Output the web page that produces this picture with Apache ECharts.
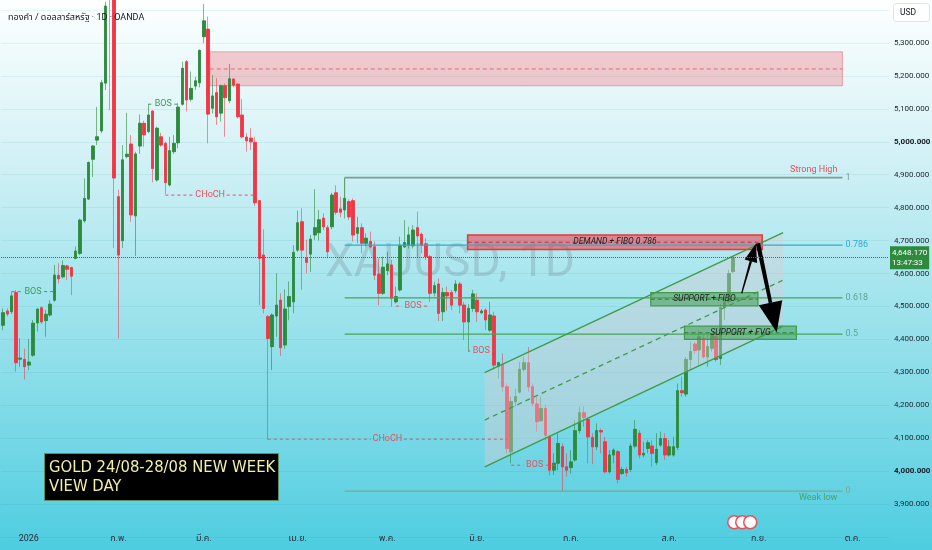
<!DOCTYPE html>
<html><head><meta charset="utf-8">
<script src="https://cdn.jsdelivr.net/npm/echarts@6/dist/echarts.min.js"></script>
<style>html,body{margin:0;padding:0;background:#fff}#c{width:932px;height:550px}</style>
</head><body><div id="c"></div>
<script>
// ---------- DATA ----------
// daily candles [open, high, low, close]
const ohlc = [
[4443,4494,4428,4481],[4486,4494,4470,4477],[4484,4545,4477,4532],[4542,4550,4302,4329],[4340,4403,4317,4343],
[4339,4372,4278,4317],[4322,4401,4307,4331],[4352,4459,4347,4449],[4450,4494,4424,4492],[4496,4500,4447,4453],
[4457,4490,4408,4476],[4474,4519,4469,4507],[4519,4626,4514,4595],[4594,4631,4570,4584],[4590,4640,4585,4624],
[4623,4626,4580,4613],[4618,4621,4534,4592],[4646,4682,4643,4668],[4661,4767,4656,4762],[4760,4889,4754,4828],
[4826,4940,4823,4937],[4947,4990,4893,4987],[5005,5106,4990,5015],[5033,5188,5026,5179],[5178,5425,5157,5412],
[5540,5600,5096,5450],[5450,5460,4677,4890],[4833,4854,4403,4656],[4700,4990,4677,4945],[4955,5088,4950,4962],
[4993,5020,4757,4778],[4775,4970,4653,4963],[4987,5083,4963,5056],[5056,5064,4985,5021],[5031,5115,5026,5081],
[5093,5096,4877,4919],[4884,5046,4879,5041],[5015,5027,4985,4990],[4995,5000,4841,4876],[4869,5015,4864,4973],
[4970,5020,4963,4995],[4997,5117,4980,5105],[5114,5243,5109,5223],[5243,5248,5092,5127],[5129,5213,5122,5162],
[5169,5197,5157,5185],[5179,5281,5165,5277],[5319,5418,5299,5367],[5342,5380,4995,5084],[5102,5203,5086,5139],
[5149,5193,5051,5076],[5087,5174,5061,5170],[5170,5177,5015,5134],[5125,5236,5117,5191],[5190,5193,5165,5172],
[5175,5177,5071,5076],[5081,5129,5010,5015],[5014,5026,4970,5003],[5011,5041,4975,5000],[4998,5015,4805,4815],
[4821,4823,4504,4646],[4656,4734,4479,4494],[4469,4474,4096,4403],[4378,4479,4307,4474],[4471,4601,4408,4504],
[4519,4540,4350,4375],[4383,4552,4372,4492],[4500,4576,4458,4530],[4514,4686,4479,4664],[4671,4791,4666,4754],
[4757,4798,4550,4671],[4646,4702,4601,4634],[4659,4717,4605,4704],[4717,4856,4702,4739],[4724,4793,4700,4763],
[4768,4783,4732,4742],[4739,4747,4646,4666],[4742,4845,4734,4838],[4845,4868,4778,4786],[4796,4833,4771,4786],
[4793,4890,4767,4828],[4818,4825,4762,4772],[4821,4828,4697,4717],[4722,4772,4692,4739],[4739,4752,4661,4692],
[4692,4722,4682,4707],[4697,4727,4677,4681],[4681,4697,4580,4595],[4598,4646,4504,4540],[4540,4651,4535,4619],
[4609,4666,4595,4629],[4626,4641,4499,4525],[4514,4560,4509,4530],[4550,4712,4545,4686],[4681,4762,4677,4694],
[4686,4742,4676,4717],[4684,4747,4676,4732],[4739,4788,4649,4714],[4719,4724,4662,4686],[4690,4707,4641,4651],
[4651,4656,4514,4540],[4541,4575,4530,4563],[4568,4585,4456,4479],[4484,4557,4456,4542],[4542,4560,4487,4532],
[4542,4550,4489,4504],[4548,4580,4540,4568],[4568,4575,4479,4504],[4504,4514,4398,4453],[4453,4507,4362,4494],
[4494,4550,4484,4538],[4519,4540,4453,4484],[4481,4492,4476,4486],[4489,4494,4428,4459],[4428,4514,4423,4474],
[4471,4484,4307,4322],[4317,4332,4281,4329],[4324,4357,4241,4256],[4256,4266,4054,4069],[4059,4226,4024,4211],
[4211,4250,4196,4226],[4240,4332,4236,4309],[4309,4347,4302,4329],[4329,4377,4241,4256],[4256,4266,4196,4206],
[4204,4226,4120,4150],[4153,4226,4150,4190],[4190,4200,4094,4109],[4104,4110,3987,4003],[4003,4054,3988,4024],
[4024,4115,4003,4084],[4074,4084,3940,4013],[4013,4054,3983,4003],[4011,4064,3993,4028],[4034,4155,4029,4123],
[4123,4196,4115,4177],[4177,4196,4135,4163],[4157,4165,4024,4104],[4102,4115,4021,4074],[4074,4145,4064,4123],
[4123,4130,4054,4119],[4089,4104,3993,3998],[3998,4064,3993,4049],[4049,4069,4024,4064],[4059,4064,3963,3975],
[3993,4013,3988,4005],[4005,4013,3983,3995],[4005,4084,3998,4076],[4076,4155,4069,4127],[4115,4125,4039,4049],
[4049,4089,4042,4054],[4069,4094,4054,4086],[4076,4094,4013,4054],[4026,4115,4018,4066],[4079,4120,4074,4099],
[4099,4115,4034,4049],[4049,4094,4044,4074],[4049,4104,4044,4074],[4072,4266,4064,4244],[4244,4287,4226,4238],
[4234,4347,4226,4339],[4339,4393,4307,4363],[4386,4393,4357,4366],[4368,4428,4317,4408],[4403,4413,4342,4347],
[4347,4413,4317,4378],[4373,4418,4363,4413],[4410,4418,4332,4339],[4342,4509,4322,4497],[4497,4530,4459,4514],
[4514,4611,4509,4600],[4606,4653,4600,4648]
];
const firstDay = '2025-12-23';
const holidays = ['2025-12-25','2026-01-01','2026-04-03'];
const dayCount = 208;
const monthNames = ['2026','ก.พ.','มี.ค.','เม.ย.','พ.ค.','มิ.ย.','ก.ค.','ส.ค.','ก.ย.','ต.ค.','พ.ย.','ธ.ค.'];
const priceMin = 3800, priceMax = 5400, priceStep = 100;
const lastPrice = 4648.17, lastTime = '13:47:33';

// market structure lines [startIdx, endIdx, price, label, side]
const structLines = [
  [2, 12, 4545, 'BOS', 'bull'],
  [34, 41, 5114, 'BOS', 'bull'],
  [38, 59, 4838, 'CHoCH', 'bear'],
  [92, 100, 4501, 'BOS', 'bear'],
  [109, 115, 4365, 'BOS', 'bear'],
  [62, 118, 4097, 'CHoCH', 'bear'],
  [119, 130, 4018, 'BOS', 'bear']
];
// fibonacci retracement
const fibLabels = ['1', '0.786', '0.618', '0.5', '0'];
const fibPrices = [4891, 4686, 4526, 4416, 3939];
const fibRange = [80, 196.6];
const fibNames = ['Strong High', '', '', '', 'Weak low'];
// supply zone [x1, x2, low, high, mid]
const supplyZone = [48.4, 196.6, 5170, 5273, 5221];
// boxes [x1, x2, low, high, text, kind]
const boxes = [
  [108.8, 177.8, 4673, 4717, 'DEMAND + FIBO 0.786', 'demand'],
  [151.7, 176.8, 4502, 4542, 'SUPPORT + FIBO', 'support'],
  [159.6, 185.8, 4400, 4440, 'SUPPORT + FVG', 'support']
];
// rising channel
const channelX = [112.8, 182.7];
const channelUpper = [4299, 4724];
const channelMid = [4155, 4580];
const channelLower = [4013, 4440];
// arrows [x1, y1, x2, y2, kind]
const arrows = [
  [173.0, 4540, 176.3, 4690, 'thin'],
  [176.8, 4692, 181.2, 4422, 'bold']
];

// ---------- BUILD ----------
const dates = [];
{
  const [y0, m0, d0] = firstDay.split('-').map(Number);
  let t = Date.UTC(y0, m0 - 1, d0);
  while (dates.length < dayCount) {
    const d = new Date(t); const wd = d.getUTCDay(); const s = d.toISOString().slice(0, 10);
    if (wd !== 0 && wd !== 6 && holidays.indexOf(s) < 0) dates.push(s);
    t += 86400000;
  }
}
const wickData = ohlc.map(r => [r[0], r[3], r[2], r[1]]);
const bodyData = ohlc.map(r => [r[0], r[3], Math.min(r[0], r[3]), Math.max(r[0], r[3])]);

const GREEN = '#2e8b3e', RED = '#f23645';
const AXISFONT = 'Roboto, "Liberation Sans", sans-serif';
const pxPerIdx = 4.27;
const segs = [];   // {x1,y1,x2,y2,color,w,dash}
const texts = [];  // {x,y,text,color,size,align,base,dx,dy,italic}

structLines.forEach(l => {
  const [s, e, p, t, side] = l;
  const c = (s + e) / 2;
  const g = ((t.length * 5.4) / 2 + 3) / pxPerIdx;
  const col = side === 'bull' ? '#3d9b55' : '#e8505c';
  segs.push({x1: s, y1: p, x2: c - g, y2: p, color: col, w: 1, dash: [3, 3]});
  segs.push({x1: c + g, y1: p, x2: e, y2: p, color: col, w: 1, dash: [3, 3]});
  texts.push({x: c, y: p, text: t, color: col, size: 9, align: 'center', base: 'middle', dx: 0, dy: 0});
});
const fibLineColors = ['#7e9d99', '#2aaed0', '#47a552', '#47a552', '#7ea596'];
const fibTextColors = ['#7e9d99', '#2aaed0', '#5ea58c', '#5ea58c', '#7ea596'];
fibPrices.forEach((p, i) => {
  segs.push({x1: fibRange[0], y1: p, x2: fibRange[1], y2: p, color: fibLineColors[i], w: i === 0 ? 1.6 : 1.2});
  texts.push({x: fibRange[1], y: p, text: fibLabels[i], color: fibTextColors[i], size: 9, align: 'left', base: 'middle', dx: 3, dy: 0});
});
texts.push({x: fibRange[1] - 1.2, y: fibPrices[0], text: fibNames[0], color: '#e0505c', size: 9, align: 'right', base: 'bottom', dx: 0, dy: -3});
texts.push({x: fibRange[1] - 1.2, y: fibPrices[4], text: fibNames[4], color: '#4e9f63', size: 9, align: 'right', base: 'top', dx: 0, dy: 2});
segs.push({x1: fibRange[0], y1: fibPrices[0], x2: fibRange[0], y2: 4830, color: '#5f9f6a', w: 1});

segs.push({x1: supplyZone[0], y1: supplyZone[4], x2: supplyZone[1], y2: supplyZone[4], color: '#e06a78', w: 1, dash: [4, 3]});
boxes.forEach(b => {
  const mid = (b[2] + b[3]) / 2;
  segs.push({x1: b[0], y1: mid, x2: b[1], y2: mid, color: b[5] === 'demand' ? '#c0303a' : '#2f7a38', w: 1, dash: [4, 3]});
  texts.push({x: (b[0] + b[1]) / 2, y: mid, text: b[4], color: '#1d1d1d', size: 8.5, align: 'center', base: 'middle', dx: 0, dy: 0, italic: true});
});
[channelUpper, channelLower].forEach(c => segs.push({x1: channelX[0], y1: c[0], x2: channelX[1], y2: c[1], color: '#3f9b4a', w: 1.3}));
segs.push({x1: channelX[0], y1: channelMid[0], x2: channelX[1], y2: channelMid[1], color: '#3f9b4a', w: 1.3, dash: [5, 4]});

function fmtPrice(v) { return v.toLocaleString('en-US', {minimumFractionDigits: 3, maximumFractionDigits: 3}); }

const chart = echarts.init(document.getElementById('c'));
const option = {
  animation: false,
  backgroundColor: new echarts.graphic.LinearGradient(0, 0, 0, 1, [
    {offset: 0, color: '#fdffff'}, {offset: 0.25, color: '#d9f3f7'}, {offset: 0.5, color: '#a9e6ee'},
    {offset: 0.75, color: '#7fdae7'}, {offset: 1, color: '#4dcde0'}
  ]),
  textStyle: {fontFamily: 'Roboto, "Noto Sans", "Noto Sans Thai", "DejaVu Sans", sans-serif'},
  title: [
    {text: 'ทองคำ / ดอลลาร์สหรัฐ · 1D · OANDA', left: 3, top: 8,
     textStyle: {fontSize: 9, fontWeight: 'normal', color: '#131722'}},
    {text: 'GOLD 24/08-28/08 NEW WEEK\nVIEW DAY', left: 44, top: 453, backgroundColor: '#000',
     borderColor: '#5b8f60', borderWidth: 1, padding: [5, 3, 5, 5],
     textStyle: {color: '#f4efa2', fontSize: 16.5, fontWeight: 'normal', lineHeight: 19,
                 fontFamily: '"DejaVu Sans Condensed", "Liberation Sans Narrow", sans-serif'}}
  ],
  grid: {left: 1, right: 43, top: 10, bottom: 13, containLabel: false, outerBoundsMode: 'none'},
  xAxis: [
    {type: 'category', data: dates, boundaryGap: true,
     axisLine: {show: false}, axisTick: {show: false}, splitLine: {show: false},
     axisLabel: {margin: -3, fontSize: 9, color: '#2a2e39',
       interval: (i) => i > 0 && dates[i].slice(5, 7) !== dates[i - 1].slice(5, 7),
       formatter: (v) => monthNames[+v.slice(5, 7) - 1]}},
    {type: 'value', min: -0.5, max: dayCount - 0.5, show: false}
  ],
  yAxis: {type: 'value', position: 'right', min: priceMin, max: priceMax, interval: priceStep, scale: true,
    axisLine: {show: false}, axisTick: {show: false},
    splitLine: {lineStyle: {color: 'rgba(0,110,130,0.08)'}},
    axisLabel: {showMinLabel: false, showMaxLabel: false, margin: 5, fontSize: 8, color: '#1e222d', fontFamily: AXISFONT,
      formatter: v => (v % 1000 === 0 ? '{b|' + fmtPrice(v) + '}' : fmtPrice(v)),
      rich: {b: {fontWeight: 'bold', fontSize: 8, color: '#131722', fontFamily: AXISFONT}}}},
  series: [
    {type: 'custom', xAxisIndex: 1, z: 1, silent: true,
     data: [supplyZone.slice(0, 4)], encode: {x: [0, 1], y: [2, 3]},
     renderItem: (p, api) => {
       const a = api.coord([api.value(0), api.value(3)]), b = api.coord([api.value(1), api.value(2)]);
       return {type: 'rect', shape: {x: a[0], y: a[1], width: b[0] - a[0], height: b[1] - a[1]},
               style: {fill: 'rgba(242,54,69,0.25)', stroke: 'rgba(230,80,95,0.45)', lineWidth: 1}};
     }},
    {type: 'candlestick', name: 'wick', data: wickData, barWidth: 3, clip: false, z: 2, silent: true,
     itemStyle: {color: 'rgba(46,139,62,0.55)', color0: 'rgba(242,54,69,0.55)',
                 borderColor: 'rgba(46,139,62,0.6)', borderColor0: 'rgba(242,54,69,0.55)', borderWidth: 1}},
    {type: 'candlestick', name: 'body', data: bodyData, barWidth: 3, clip: false, z: 3, silent: true,
     itemStyle: {color: GREEN, color0: RED, borderColor: GREEN, borderColor0: RED, borderWidth: 0.6},
     markLine: {symbol: 'none', silent: true, z: 10,
       lineStyle: {type: 'dotted', color: '#2e7d32', width: 1},
       label: {show: true, position: 'end', distance: 1, formatter: fmtPrice(lastPrice) + '\n' + lastTime,
               backgroundColor: '#2e8b3e', color: '#fff', padding: [2, 2, 1, 2], fontSize: 8, lineHeight: 10,
               fontFamily: AXISFONT},
       data: [{yAxis: lastPrice}]}},
    {type: 'custom', xAxisIndex: 1, z: 4, silent: true, data: [[channelX[0], channelLower[0], channelX[1], channelUpper[1]]],
     encode: {x: [0, 2], y: [1, 3]},
     renderItem: (p, api) => ({type: 'polygon', shape: {points: [
        api.coord([channelX[0], channelUpper[0]]), api.coord([channelX[1], channelUpper[1]]),
        api.coord([channelX[1], channelLower[1]]), api.coord([channelX[0], channelLower[0]])]},
        style: {fill: 'rgba(215,205,212,0.42)'}})},
    {type: 'custom', xAxisIndex: 1, z: 5, silent: true,
     data: boxes.map(b => [b[0], b[1], b[2], b[3]]), encode: {x: [0, 1], y: [2, 3]},
     renderItem: (p, api) => {
       const k = boxes[p.dataIndex][5];
       const a = api.coord([api.value(0), api.value(3)]), b = api.coord([api.value(1), api.value(2)]);
       return {type: 'rect', shape: {x: a[0], y: a[1], width: b[0] - a[0], height: b[1] - a[1]},
         style: k === 'demand' ? {fill: 'rgba(242,54,69,0.55)', stroke: '#e53935', lineWidth: 1.5}
                               : {fill: 'rgba(56,150,66,0.5)', stroke: '#3f9b4a', lineWidth: 1.2}};
     }},
    {type: 'custom', xAxisIndex: 1, z: 6, silent: true,
     data: segs.map(s => [s.x1, s.y1, s.x2, s.y2]), encode: {x: [0, 2], y: [1, 3]},
     renderItem: (p, api) => {
       const s = segs[p.dataIndex];
       const a = api.coord([api.value(0), api.value(1)]), b = api.coord([api.value(2), api.value(3)]);
       return {type: 'line', shape: {x1: a[0], y1: a[1], x2: b[0], y2: b[1]},
               style: {stroke: s.color, lineWidth: s.w, lineDash: s.dash || null}};
     }},
    {type: 'custom', xAxisIndex: 1, z: 8, silent: true,
     data: arrows.map(a => [a[0], a[1], a[2], a[3]]), encode: {x: [0, 2], y: [1, 3]},
     renderItem: (p, api) => {
       const bold = arrows[p.dataIndex][4] === 'bold';
       const A = api.coord([api.value(0), api.value(1)]), T = api.coord([api.value(2), api.value(3)]);
       const dx = T[0] - A[0], dy = T[1] - A[1], L = Math.hypot(dx, dy);
       const ux = dx / L, uy = dy / L, nx = -uy, ny = ux;
       const hl = bold ? 30 : 18, hw = bold ? 12 : 6.5, w0 = bold ? 2.2 : 0.6, w1 = bold ? 1.8 : 1.2;
       const B = [T[0] - ux * hl, T[1] - uy * hl];
       return {type: 'group', children: [
         {type: 'polygon', shape: {points: [[A[0] + nx * w0, A[1] + ny * w0], [B[0] + nx * w1, B[1] + ny * w1],
            [B[0] - nx * w1, B[1] - ny * w1], [A[0] - nx * w0, A[1] - ny * w0]]}, style: {fill: '#000'}},
         {type: 'polygon', shape: {points: [[B[0] + nx * hw, B[1] + ny * hw], T, [B[0] - nx * hw, B[1] - ny * hw]]},
          style: {fill: '#000'}}]};
     }},
    {type: 'custom', xAxisIndex: 1, z: 9, silent: true,
     data: texts.map(t => [t.x, t.y]), encode: {x: 0, y: 1},
     renderItem: (p, api) => {
       const t = texts[p.dataIndex];
       const c = api.coord([api.value(0), api.value(1)]);
       return {type: 'text', x: c[0] + t.dx, y: c[1] + t.dy,
         style: {text: t.text, fill: t.color, align: t.align, verticalAlign: t.base,
                 font: (t.italic ? 'italic ' : '') + t.size + 'px Roboto, "Noto Sans", sans-serif'}};
     }}
  ],
  graphic: [
    {type: 'text', left: 325, top: 241, z: 0, silent: true,
     style: {text: 'XAUUSD, 1D', fill: 'rgba(110,125,135,0.26)', font: '46px Roboto, "Noto Sans", sans-serif'}},
    {type: 'rect', left: 893, top: 3, shape: {width: 36, height: 18, r: 3},
     style: {fill: '#fff', stroke: '#dde3e6', lineWidth: 1}},
    {type: 'text', left: 900, top: 8, style: {text: 'USD', fill: '#131722', font: '8.5px ' + AXISFONT}},
    {type: 'group', left: 727, top: 515, children: [
      {type: 'circle', shape: {cx: 7, cy: 7, r: 6.5}, style: {fill: '#fff', stroke: '#e8505c', lineWidth: 1.5}},
      {type: 'circle', shape: {cx: 15, cy: 7, r: 6.5}, style: {fill: '#fff', stroke: '#e8505c', lineWidth: 1.5}},
      {type: 'circle', shape: {cx: 23, cy: 7, r: 6.5}, style: {fill: '#fff', stroke: '#e8505c', lineWidth: 1.5}}
    ]}
  ]
};
chart.setOption(option);
</script>
</body></html>
